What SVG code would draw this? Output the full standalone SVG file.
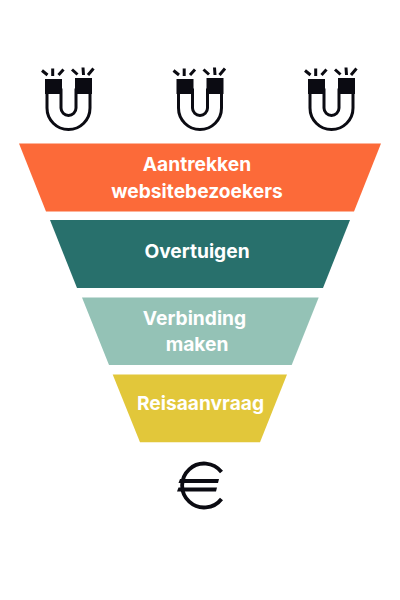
<svg xmlns="http://www.w3.org/2000/svg" width="400" height="600" viewBox="0 0 400 600">
<style>
.t{font-family:"Inter","Open Sans","Liberation Sans",sans-serif;font-weight:700;font-size:19.200px;fill:#fff;text-anchor:middle}
.o{fill:none;stroke:#0b0b12;stroke-width:3}
.s{fill:none;stroke:#0b0b12;stroke-width:3}
.e{fill:#0b0b12}
</style>
<defs>
<g id="magnet">
<path class="o" d="M47,90V108A21.500,21.500 0 0 0 90,108V90H76V108A7.500,7.500 0 0 1 61,108V90Z"/>
<path fill="#0b0b12" d="M45,79H62V94H45ZM75,78H92V94H75Z"/>
<path class="s" d="M42,70.500L47.500,75M52.700,68.500V76M63.500,69.500L58.500,75M72,69.500L77.500,74.500M83,67.500L83.500,75M93.500,68.500L88,75"/>
</g>
</defs>
<rect width="400" height="600" fill="#fff"/>
<g id="magnet-1"><use href="#magnet"/></g>
<g id="magnet-2"><use href="#magnet" x="131.500"/></g>
<g id="magnet-3"><use href="#magnet" x="263"/></g>
<g id="connectors"/>
<g id="step-1"><path fill="#fc6a39" d="M19,143.500H381L354,211.500H46Z"/><text class="t" x="197" y="171">Aantrekken</text><text class="t" x="197" y="197.500">websitebezoekers</text></g>
<g id="step-2"><path fill="#28706c" d="M50,220H350L323,288H77Z"/><text class="t" x="197" y="258">Overtuigen</text></g>
<g id="step-3"><path fill="#94c2b6" d="M82,297.500H318.700L291.700,365H109Z"/><text class="t" x="194.500" y="325">Verbinding</text><text class="t" x="197" y="350.500">maken</text></g>
<g id="step-4"><path fill="#e2c73a" d="M112.700,374.500H287L260,442.300H140Z"/><text class="t" x="200.500" y="410">Reisaanvraag</text></g>
<g id="euro"><path fill="none" stroke="#0b0b12" stroke-width="3.800" d="M221.500,472A22,22 0 1 0 221.500,499"/><path class="e" d="M180,479H219L218,483H178.500ZM178.500,487.500H217L216,491.500H177Z"/></g>
</svg>
